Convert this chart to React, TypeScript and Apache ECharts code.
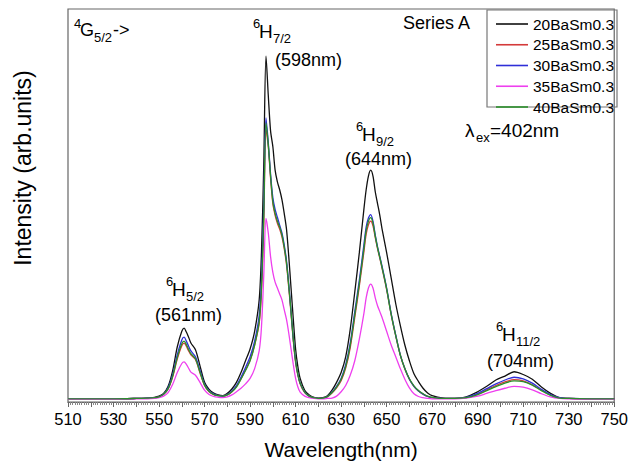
import { useEffect, useRef } from "react";
import * as echarts from "echarts";

const FONT = "'Liberation Sans', Arial, sans-serif";

const seriesNames = ["20BaSm0.3", "25BaSm0.3", "30BaSm0.3", "35BaSm0.3", "40BaSm0.3"];
const seriesColors = ["#111111", "#d43a3a", "#2f2fd8", "#ee3fee", "#2a8f2a"];

// wavelength grid (nm), denser around the emission peaks
const wavelengths = [
  510, 520, 530, 540, 545, 548, 550, 552, 554, 556, 558, 560, 561, 562, 563, 564, 566, 568, 570, 572, 574, 576, 578,
  580, 582, 584, 586, 588, 590, 592, 594, 595, 596, 597, 598, 599, 600, 601, 602, 603, 604, 605, 606, 607, 608, 609, 610, 611, 612, 614, 616, 618,
  620, 622, 624, 626, 628, 630, 632, 634, 636, 638, 640, 641, 642, 643, 644, 645, 646, 647, 648, 650, 652, 654, 656, 658, 660, 662, 664, 666, 668, 670,
  675, 680, 685, 690, 694, 698, 702, 706, 710, 714, 718, 722, 726, 730, 740, 750,
];

const ba20 = [
  0.8, 0.8, 0.8, 0.9, 1.0, 1.2, 1.5, 2.2, 4.0, 8.0, 14.0, 18.0, 18.8, 17.8, 16.5, 15.0, 13.3, 9.2, 5.0, 3.2, 2.3, 1.8, 1.6,
  2.2, 3.3, 5.0, 7.5, 10.5, 13.5, 18.0, 26.0, 38.0, 60.0, 88.0, 78.0, 69.0, 65.0, 59.0, 56.0, 54.0, 51.5, 48.0, 44.0, 37.0, 29.0, 21.0, 13.5, 9.0, 6.0, 3.0, 1.8, 1.2,
  1.0, 1.1, 1.6, 3.0, 5.0, 7.5, 11.5, 18.5, 28.0, 38.0, 49.0, 54.0, 57.5, 59.0, 57.5, 53.5, 50.5, 47.5, 44.0, 38.0, 31.5, 25.0, 19.5, 14.5, 10.5, 7.2, 5.2, 3.5, 2.3, 1.6,
  1.0, 0.9, 1.3, 2.6, 4.0, 5.6, 6.6, 7.7, 7.0, 5.8, 3.8, 2.2, 1.1, 0.9, 0.8, 0.8,
];

const ba25 = [
  0.8, 0.8, 0.8, 0.9, 1.0, 1.1, 1.3, 1.9, 3.3, 6.4, 10.9, 14.3, 15.0, 14.2, 13.0, 12.0, 10.8, 7.4, 4.2, 2.6, 1.9, 1.6, 1.5,
  1.8, 2.6, 3.9, 5.9, 8.2, 10.6, 14.5, 20.0, 28.0, 45.0, 69.3, 65.0, 57.0, 50.5, 47.5, 45.5, 44.0, 42.0, 39.0, 35.0, 29.0, 22.5, 15.5, 10.0, 6.8, 4.6, 2.4, 1.5, 1.1,
  0.9, 1.0, 1.3, 2.3, 3.6, 5.4, 8.6, 13.8, 21.5, 29.5, 38.2, 42.7, 45.1, 46.0, 44.8, 41.8, 39.0, 36.6, 34.0, 28.6, 22.2, 16.8, 11.9, 8.4, 5.8, 4.0, 2.8, 2.0, 1.4, 1.1,
  0.9, 0.9, 1.1, 2.0, 3.1, 4.2, 5.1, 5.7, 5.4, 4.4, 3.0, 1.8, 1.0, 0.9, 0.8, 0.8,
];

const ba30 = [
  0.8, 0.8, 0.8, 0.9, 1.0, 1.1, 1.3, 2.0, 3.6, 7.0, 12.0, 15.8, 16.5, 15.5, 14.2, 13.0, 11.5, 8.0, 4.5, 2.8, 2.0, 1.6, 1.5,
  1.9, 2.8, 4.2, 6.3, 8.8, 11.5, 15.5, 22.0, 31.0, 50.0, 72.3, 66.0, 58.0, 52.0, 49.0, 47.0, 45.0, 43.0, 40.0, 36.0, 30.0, 23.0, 16.0, 10.5, 7.0, 4.8, 2.5, 1.5, 1.1,
  0.9, 1.0, 1.4, 2.5, 4.0, 6.0, 9.5, 15.0, 23.0, 31.0, 40.0, 44.5, 46.8, 47.7, 46.0, 42.5, 39.5, 37.0, 34.5, 29.0, 22.5, 17.0, 12.0, 8.5, 5.8, 4.0, 2.8, 2.0, 1.4, 1.1,
  0.9, 0.9, 1.2, 2.2, 3.4, 4.6, 5.6, 6.3, 5.9, 4.8, 3.2, 1.9, 1.1, 0.9, 0.8, 0.8,
];

const ba35 = [
  0.7, 0.7, 0.7, 0.8, 0.8, 0.9, 1.1, 1.5, 2.4, 4.5, 7.5, 9.8, 10.2, 9.6, 8.6, 7.6, 6.8, 5.0, 3.0, 1.9, 1.4, 1.2, 1.1,
  1.3, 1.8, 2.6, 3.5, 4.6, 6.0, 8.5, 13.0, 19.0, 32.0, 46.7, 43.0, 37.0, 33.0, 30.5, 29.0, 27.5, 26.0, 23.5, 21.0, 17.5, 13.5, 9.5, 6.0, 3.8, 2.5, 1.5, 1.1, 0.9,
  0.8, 0.8, 0.9, 1.0, 1.5, 2.6, 4.2, 6.8, 10.5, 16.0, 22.5, 26.5, 29.0, 30.0, 29.0, 26.5, 24.5, 23.0, 21.5, 18.0, 14.5, 11.5, 8.5, 5.8, 3.6, 2.1, 1.4, 1.1, 0.9, 0.8,
  0.8, 0.8, 1.0, 1.5, 2.2, 2.9, 3.5, 4.0, 3.8, 3.1, 2.1, 1.3, 0.9, 0.8, 0.7, 0.7,
];

const ba40 = [
  0.8, 0.8, 0.8, 0.9, 1.0, 1.1, 1.3, 2.0, 3.4, 6.6, 11.3, 14.8, 15.5, 14.6, 13.4, 12.3, 11.0, 7.6, 4.3, 2.7, 1.9, 1.6, 1.5,
  1.8, 2.6, 3.8, 5.8, 8.0, 10.5, 14.5, 20.5, 29.0, 47.0, 71.0, 65.5, 57.5, 51.0, 48.0, 46.0, 44.5, 42.5, 39.5, 35.5, 29.5, 23.0, 16.0, 10.5, 7.0, 4.8, 2.5, 1.5, 1.1,
  0.9, 1.0, 1.4, 2.4, 3.8, 5.7, 9.0, 14.4, 22.2, 30.2, 39.0, 43.6, 46.0, 46.9, 45.5, 42.2, 39.3, 36.8, 34.2, 28.8, 22.3, 16.9, 12.0, 8.5, 5.9, 4.1, 2.9, 2.1, 1.5, 1.2,
  0.9, 0.9, 1.1, 1.9, 2.9, 3.9, 4.8, 5.4, 5.2, 4.3, 2.9, 1.7, 1.0, 0.9, 0.8, 0.8,
];

const intensities = [ba20, ba25, ba30, ba35, ba40];

function txt(x: number, y: number, text: string, size: number, extra: any = {}) {
  return {
    type: "text",
    x,
    y,
    silent: true,
    style: { text, fontSize: size, fontFamily: FONT, fill: "#000", verticalAlign: "middle", ...extra },
  };
}

// term symbol like ⁶H₇/₂ : superscript, letter, subscript
function term(x: number, y: number, sup: string, letter: string, sub: string) {
  return [
    txt(x, y - 8, sup, 13),
    txt(x + 6, y, letter, 19),
    txt(x + 20, y + 7, sub, 13),
  ];
}

function buildOption(): any {
  return {
    animation: false,
    backgroundColor: "#fff",
    grid: { left: 68, right: 15, top: 9, bottom: 62, show: true, borderColor: "#666", borderWidth: 1.2 },
    xAxis: {
      type: "value",
      min: 510,
      max: 750,
      interval: 10,
      axisLine: { show: true, lineStyle: { color: "#666", width: 1.2 } },
      axisTick: { show: true, length: 5, lineStyle: { color: "#666" } },
      minorTick: { show: true, splitNumber: 10, length: 3, lineStyle: { color: "#888" } },
      splitLine: { show: false },
      minorSplitLine: { show: false },
      axisLabel: {
        formatter: (v: number) => ((v - 510) % 20 === 0 ? String(v) : ""),
        fontSize: 16.5,
        color: "#000",
        fontFamily: FONT,
        margin: 8,
      },
      name: "Wavelength(nm)",
      nameLocation: "middle",
      nameGap: 37,
      nameTextStyle: { fontSize: 21, color: "#000", fontFamily: FONT },
    },
    yAxis: {
      type: "value",
      min: 0,
      max: 100,
      axisLine: { show: false },
      axisTick: { show: false },
      axisLabel: { show: false },
      splitLine: { show: false },
    },
    legend: {
      orient: "vertical",
      left: 496,
      top: 16,
      padding: 0,
      icon: "rect",
      itemWidth: 32,
      itemHeight: 1.6,
      itemGap: 4.75,
      textStyle: { fontSize: 15.5, fontFamily: FONT, color: "#000", lineHeight: 14 },
      data: seriesNames,
    },
    series: seriesNames.map((name, k) => ({
      name,
      type: "line",
      symbol: "none",
      smooth: 0.3,
      color: seriesColors[k],
      lineStyle: { width: 1.3, color: seriesColors[k] },
      data: wavelengths.map((w, i) => [w, intensities[k][i]]),
    })),
    graphic: [
      {
        type: "rect",
        shape: { x: 487, y: 10, width: 130, height: 97 },
        style: { fill: "none", stroke: "#777", lineWidth: 1.2 },
        silent: true,
      },
      {
        type: "text",
        x: 23,
        y: 168,
        rotation: Math.PI / 2,
        silent: true,
        style: {
          text: "Intensity (arb.units)",
          fontSize: 23,
          fontFamily: FONT,
          fill: "#000",
          align: "center",
          verticalAlign: "middle",
        },
      },
      txt(403, 23, "Series A", 18),
      // ⁴G₅/₂->
      txt(74, 23, "4", 13),
      txt(80, 30, "G", 18),
      txt(94, 37, "5/2", 13),
      txt(113, 30, "->", 18),
      // 561
      ...term(166, 289.5, "6", "H", "5/2"),
      txt(155, 314.5, "(561nm)", 18),
      // 598
      ...term(253, 31.5, "6", "H", "7/2"),
      txt(275, 59.5, "(598nm)", 18),
      // 644
      ...term(356, 134, "6", "H", "9/2"),
      txt(345, 159, "(644nm)", 18),
      // 704
      ...term(496, 334.5, "6", "H", "11/2"),
      txt(487, 360.5, "(704nm)", 18),
      // λex=402nm
      txt(465, 130, "λ", 19),
      txt(476, 137, "ex", 13),
      txt(490, 130, "=402nm", 19),
    ],
  };
}

export default function App() {
  const chartRef = useRef<HTMLDivElement>(null);

  useEffect(() => {
    if (!chartRef.current) return;
    const chart = echarts.init(chartRef.current, undefined, { renderer: "svg" });
    chart.setOption(buildOption());
    return () => chart.dispose();
  }, []);

  return <div ref={chartRef} style={{ position: "absolute", left: 0, top: 0, width: 631, height: 465 }} />;
}
